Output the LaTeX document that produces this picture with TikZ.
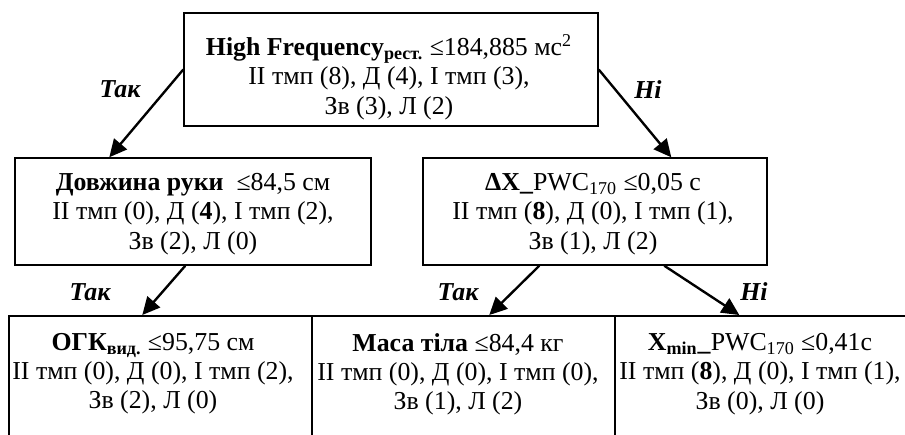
\documentclass[tikz,border=0pt]{standalone}
\usepackage{fontspec}
\setmainfont{Liberation Serif}
\usetikzlibrary{arrows.meta,calc}

\begin{document}
\begin{tikzpicture}[x=0.02cm, y=-0.02cm,
    box/.style={draw, line width=0.85pt, inner sep=0pt},
    txt/.style={align=center, inner sep=0pt, font=\fontsize{14.7}{16.6}\selectfont},
    edge/.style={line width=1.35pt, -{Triangle[length=10pt, width=9.5pt]}},
    ans/.style={inner sep=0pt, font=\fontsize{14.7}{16.6}\selectfont\bfseries\itshape}]

  \useasboundingbox (0,0) rectangle (905,434);

  % --- root ---
  \node[box, minimum width=8.28cm, minimum height=2.26cm] (root) at (391,69.5) {};
  \node[txt] (roottxt) at (389,77) {\textbf{High Frequency}\textsubscript{\textbf{рест.}} ≤184,885 мс\textsuperscript{2}\\
    II тмп (8), Д (4), I тмп (3),\\
    Зв (3), Л (2)};

  % --- level 2 ---
  \node[box, minimum width=7.12cm, minimum height=2.14cm] (lbox) at (193,211.5) {};
  \node[txt] (lboxtxt) at (193,214) {\textbf{Довжина руки}\ \ ≤84,5 см\\
    II тмп (0), Д (\textbf{4}), I тмп (2),\\
    Зв (2), Л (0)};

  \node[box, minimum width=6.88cm, minimum height=2.14cm] (rbox) at (595,211.5) {};
  \node[txt] (rboxtxt) at (593,214) {\textbf{ΔX\_}PWC\textsubscript{170} ≤0,05 с\\
    II тмп (\textbf{8}), Д (0), I тмп (1),\\
    Зв (1), Л (2)};

  % --- leaves (cut at the bottom) ---
  \node[box, anchor=north, minimum width=6.06cm, minimum height=3cm] (leafA) at (160.5,315) {};
  \node[box, anchor=north, minimum width=6.06cm, minimum height=3cm] (leafB) at (463.5,315) {};
  \node[box, anchor=north, minimum width=6.06cm, minimum height=3cm] (leafC) at (766.5,315) {};

  \node[txt] (leafAtxt) at (153,374) {\textbf{ОГК}\textsubscript{\textbf{вид.}} ≤95,75 см\\
    II тмп (0), Д (0), I тмп (2),\\
    Зв (2), Л (0)};
  \node[txt] (leafBtxt) at (458,374) {\textbf{Маса тіла} ≤84,4 кг\\
    II тмп (0), Д (0), I тмп (0),\\
    Зв (1), Л (2)};
  \node[txt] (leafCtxt) at (760,374) {\textbf{X}\textsubscript{\textbf{min}}\textbf{\_}PWC\textsubscript{170} ≤0,41с\\
    II тмп (\textbf{8}), Д (0), I тмп (1),\\
    Зв (0), Л (0)};

  % --- edges ---
  \draw[edge] (root.west) -- ($(lbox.north west)+(95,0)$);
  \draw[edge] (root.east) -- ($(rbox.north west)+(249,0)$);
  \draw[edge] ($(lbox.south west)+(171,0)$) -- ($(leafA.north west)+(134,0)$);
  \draw[edge] ($(rbox.south west)+(117,0)$) -- ($(leafB.north west)+(178,0)$);
  \draw[edge] ($(rbox.south west)+(242,0)$) -- ($(leafC.north west)+(125,0)$);

  % --- answers ---
  \node[ans] (yes1) at (120,89) {Так};
  \node[ans] (no1) at (648,90) {Ні};
  \node[ans] (yes2) at (90,292) {Так};
  \node[ans] (yes3) at (458,292) {Так};
  \node[ans] (no2) at (754,292) {Ні};

\end{tikzpicture}
\end{document}
